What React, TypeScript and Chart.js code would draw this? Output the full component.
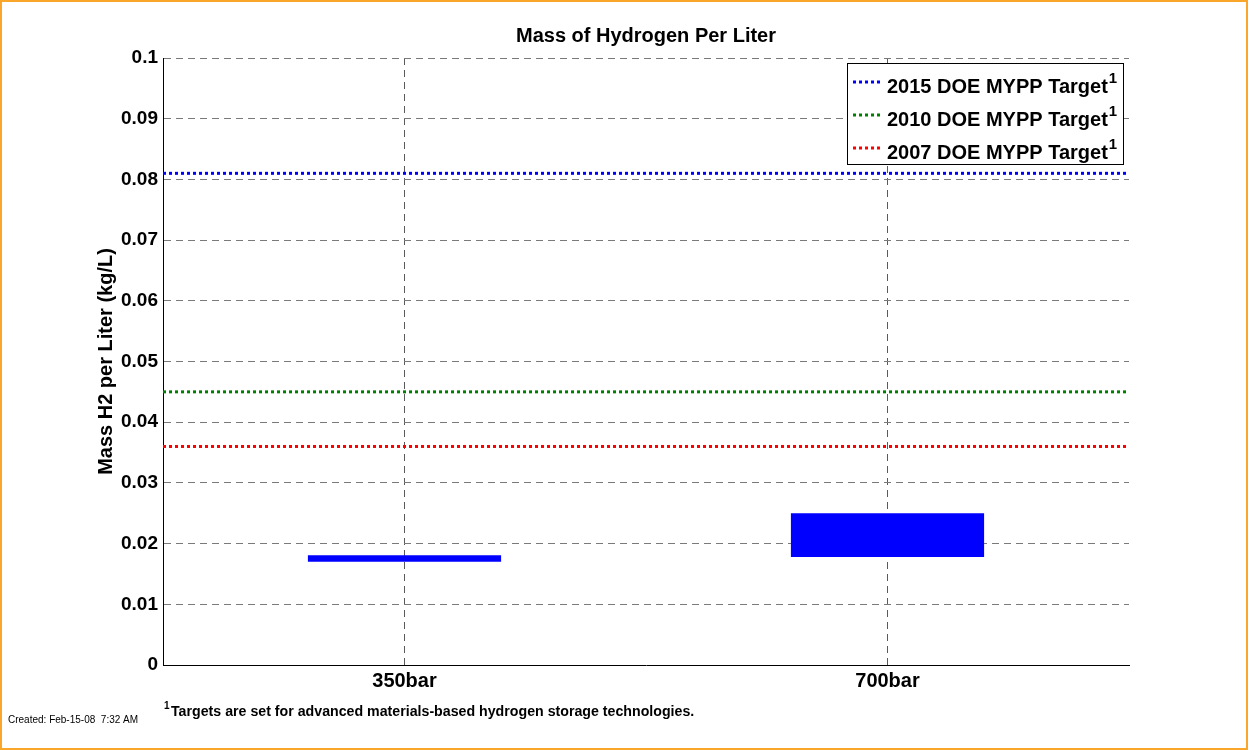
import React, { useEffect, useRef } from "react";
import { Chart, registerables } from "chart.js";

Chart.register(...registerables);

const FAMILY = "'Liberation Sans', Arial, Helvetica, sans-serif";
Chart.defaults.font.family = FAMILY;

// ---- data ----
const categories = ["350bar", "700bar"];
const rangeLow = [0.017, 0.0178];
const rangeHigh = [0.0181, 0.025];

const targetLabels = ["2015 DOE MYPP Target", "2010 DOE MYPP Target", "2007 DOE MYPP Target"];
const targetValues = [0.081, 0.045, 0.036];
const targetColors = ["#0000FF", "#008000", "#FF0000"];
const targetSpan = [0, 1];

const yTickValues = [0, 0.01, 0.02, 0.03, 0.04, 0.05, 0.06, 0.07, 0.08, 0.09, 0.1];
const yTickLabels = ["0", "0.01", "0.02", "0.03", "0.04", "0.05", "0.06", "0.07", "0.08", "0.09", "0.1"];

const titleText = "Mass of Hydrogen Per Liter";
const yAxisTitle = "Mass H2 per Liter (kg/L)";
const footnoteMark = "1";
const footnoteText = "Targets are set for advanced materials-based hydrogen storage technologies.";
const createdText = "Created: Feb-15-08  7:32 AM";

const legendPlugin = {
  id: "matlabLegend",
  afterDatasetsDraw(chart: any) {
    const { ctx, chartArea } = chart;
    const items = chart.data.datasets.filter((d: any) => d.type === "line");
    const font = `bold 20px ${FAMILY}`;
    const supFont = `bold 15px ${FAMILY}`;
    ctx.save();
    ctx.font = font;
    const textW = Math.max(...items.map((d: any) => ctx.measureText(d.label).width));
    ctx.font = supFont;
    const supW = ctx.measureText(footnoteMark).width;
    const right = chartArea.right - 6;
    const top = chartArea.top + 5;
    const width = 40 + textW + 1 + supW + 6;
    const left = Math.round(right - width);
    const rowH = 33;
    const height = 101;
    ctx.fillStyle = "#ffffff";
    ctx.fillRect(left, top, right - left, height);
    ctx.strokeStyle = "#000000";
    ctx.lineWidth = 1;
    ctx.strokeRect(left + 0.5, top + 0.5, right - left, height);
    items.forEach((d: any, i: number) => {
      const cy = top + 19 + i * rowH;
      ctx.beginPath();
      ctx.setLineDash([3, 3]);
      ctx.strokeStyle = d.borderColor;
      ctx.lineWidth = 3;
      ctx.moveTo(left + 6, cy);
      ctx.lineTo(left + 35, cy);
      ctx.stroke();
      ctx.setLineDash([]);
      ctx.fillStyle = "#000000";
      ctx.font = font;
      ctx.textBaseline = "alphabetic";
      ctx.textAlign = "left";
      ctx.fillText(d.label, left + 40, cy + 11);
      const w = ctx.measureText(d.label).width;
      ctx.font = supFont;
      ctx.fillText(footnoteMark, left + 40 + w + 1, cy + 1);
    });
    ctx.restore();
  },
};

const notesPlugin = {
  id: "notes",
  afterDraw(chart: any) {
    const { ctx, chartArea } = chart;
    ctx.save();
    ctx.textAlign = "left";
    ctx.textBaseline = "alphabetic";
    ctx.fillStyle = "#000000";
    ctx.font = `bold 10px ${FAMILY}`;
    ctx.fillText(footnoteMark, chartArea.left + 1, 709);
    ctx.font = `bold 14.2px ${FAMILY}`;
    ctx.fillText(footnoteText, chartArea.left + 8, 716);
    ctx.font = `10px ${FAMILY}`;
    ctx.fillText(createdText, 8, 723);
    ctx.strokeStyle = "#F9A62B";
    ctx.lineWidth = 2;
    ctx.strokeRect(1, 1, chart.width - 3, chart.height - 2);
    ctx.restore();
  },
};

export default function App() {
  const ref = useRef<HTMLCanvasElement | null>(null);

  useEffect(() => {
    if (!ref.current) return;
    const datasets: any[] = [
      {
        type: "bar",
        label: "range",
        data: categories.map((_, i) => [rangeLow[i], rangeHigh[i]]),
        backgroundColor: "#0000FF",
        borderWidth: 0,
        grouped: false,
        categoryPercentage: 0.5,
        barPercentage: 0.8,
        xAxisID: "x",
        yAxisID: "y",
        order: 2,
      },
      ...targetValues.map((v, i) => ({
        type: "line",
        label: targetLabels[i],
        data: targetSpan.map((x) => ({ x, y: v })),
        xAxisID: "xl",
        yAxisID: "y",
        borderColor: targetColors[i],
        backgroundColor: targetColors[i],
        borderWidth: 3,
        borderDash: [3, 3],
        borderCapStyle: "butt",
        pointRadius: 0,
        fill: false,
        order: 1,
      })),
    ];

    const chart = new Chart(ref.current, {
      type: "bar",
      data: { labels: categories, datasets },
      options: {
        responsive: false,
        animation: false,
        devicePixelRatio: 1,
        layout: { padding: { left: 0, right: 120, top: 0, bottom: 0 } },
        plugins: {
          legend: { display: false },
          tooltip: { enabled: false },
          title: {
            display: true,
            text: titleText,
            color: "#000000",
            fullSize: false,
            font: { size: 20, weight: "bold", family: FAMILY },
            padding: { top: 24, bottom: 10 },
          },
        },
        scales: {
          x: {
            type: "category",
            offset: true,
            grid: { offset: false, color: "#5a5a5a", lineWidth: 1, drawTicks: false },
            border: { display: true, color: "#000000", width: 1, dash: [7, 5] },
            ticks: {
              color: "#000000",
              padding: 4,
              font: { size: 20, weight: "bold", family: FAMILY },
            },
            afterFit: (s: any) => {
              s.height = 85;
            },
          },
          xl: {
            type: "linear",
            display: false,
            offset: false,
            grid: { offset: false },
            min: targetSpan[0],
            max: targetSpan[1],
          },
          y: {
            type: "linear",
            min: 0,
            max: 0.1,
            afterBuildTicks: (s: any) => {
              s.ticks = yTickValues.map((value) => ({ value }));
            },
            grid: {
              color: (c: any) => (c.tick && c.tick.value === 0 ? "rgba(0,0,0,0)" : "#7a7a7a"),
              lineWidth: 1,
              drawTicks: false,
            },
            border: { display: true, color: "#000000", width: 1, dash: [7, 5] },
            ticks: {
              color: "#000000",
              padding: 5,
              font: { size: 19, weight: "bold", family: FAMILY },
              callback: (v: any) => {
                const idx = yTickValues.findIndex((t) => Math.abs(t - Number(v)) < 1e-9);
                return idx >= 0 ? yTickLabels[idx] : "";
              },
            },
            title: {
              display: true,
              text: yAxisTitle,
              color: "#000000",
              font: { size: 20, weight: "bold", family: FAMILY },
              padding: { top: 94, bottom: 0 },
            },
            afterFit: (s: any) => {
              s.width = 163;
            },
          },
        },
      } as any,
      plugins: [legendPlugin, notesPlugin],
    });

    return () => chart.destroy();
  }, []);

  return (
    <div style={{ position: "absolute", left: 0, top: 0, width: 1249, height: 750, background: "#ffffff" }}>
      <canvas ref={ref} width={1249} height={750} style={{ display: "block" }} />
    </div>
  );
}
